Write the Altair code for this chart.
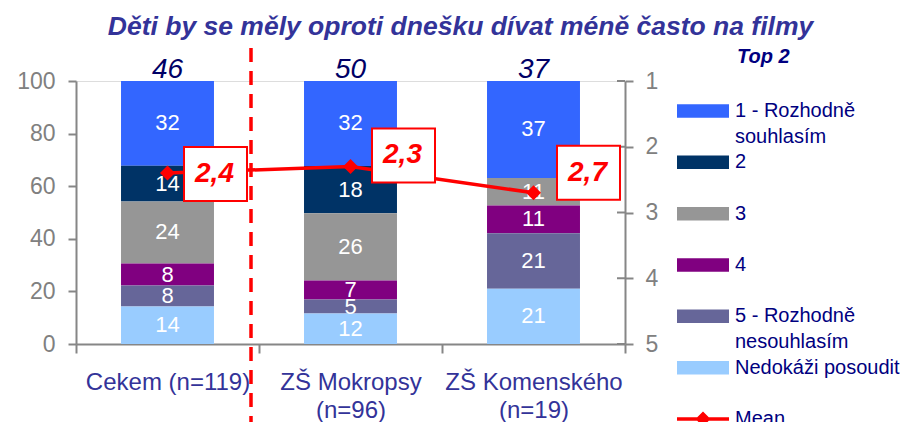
import altair as alt
import pandas as pd

# ---------------- data ----------------
groups = ["Cekem (n=119)", "ZŠ Mokropsy (n=96)", "ZŠ Komenského (n=19)"]
answers = ["1 - Rozhodně souhlasím", "2", "3", "4", "5 - Rozhodně nesouhlasím", "Nedokáži posoudit"]
share_1 = [32.2, 32.3, 36.84]
share_2 = [13.6, 18.0, 0.0]
share_3 = [23.6, 25.6, 10.53]
share_4 = [8.4, 7.2, 10.53]
share_5 = [7.9, 5.3, 21.05]
share_nk = [14.3, 11.6, 21.05]
top2 = [46, 50, 37]
means = [2.4, 2.3, 2.7]
mean_labels = ["2,4", "2,3", "2,7"]
legend_entries = answers + ["Mean"]
left_ticks = [0, 20, 40, 60, 80, 100]
right_ticks = [1, 2, 3, 4, 5]

# ---------------- styles ----------------
colors = ["#3366FF", "#003366", "#969696", "#800080", "#666699", "#99CCFF"]
RED = "#FF0000"
GRAY = "#868686"
NAVY = "#000080"
FONT = "Liberation Sans"
# pixel offsets of the mean label boxes from their points (layout only)
label_offsets = [(48, 1), (53, -11), (55, -20)]

series = [share_1, share_2, share_3, share_4, share_5, share_nk]
rows = []
for a_i, (ans, vals) in enumerate(zip(answers, series)):
    for g, v in zip(groups, vals):
        rows.append({"group": g, "answer": ans, "value": v,
                     "order": len(answers) - 1 - a_i,
                     "label": str(round(v)) if v > 0 else ""})
df = pd.DataFrame(rows)
df_top = pd.DataFrame({"group": groups, "top2": top2})
df_mean = pd.DataFrame({"group": groups, "mean": means, "mlabel": mean_labels})
df_rule = pd.DataFrame({"group": [groups[1]]})
df_leg = pd.DataFrame({"answer": legend_entries})
df_rt = pd.DataFrame({"mean": right_ticks})

x_axis = alt.Axis(title=None, labelAngle=0, domainColor=GRAY, domainWidth=2,
                  tickColor=GRAY, tickWidth=2, tickSize=9, tickBand="extent",
                  labelPadding=17, labelFontSize=24, labelColor="#333399",
                  labelFont=FONT, labelLineHeight=28, labelLimit=300,
                  labelExpr="length(datum.label) > 14 ? split(replace(datum.label, ' (', '|('), '|') : datum.label")
x_scale = alt.Scale(domain=groups, paddingInner=0, paddingOuter=0)


def X(**kw):
    return alt.X("group:N", sort=groups, scale=x_scale, axis=x_axis, **kw)


left_axis = alt.Axis(title=None, values=left_ticks, grid=False,
                     domainColor=GRAY, domainWidth=2, tickColor=GRAY, tickWidth=2,
                     tickSize=8, labelPadding=13, labelFontSize=23,
                     labelColor="#808080", labelFont=FONT)
left_scale = alt.Scale(domain=[0, 100], nice=False, zero=True)

right_axis = alt.Axis(title=None, orient="right", values=right_ticks, grid=False,
                      domainColor=GRAY, domainWidth=2, tickColor=GRAY, tickWidth=2,
                      tickSize=8, labelPadding=12, labelFontSize=23,
                      labelColor="#808080", labelFont=FONT)
right_scale = alt.Scale(domain=[1, 5], reverse=True, nice=False, zero=False)

color_scale = alt.Scale(domain=answers, range=colors)

# ---------------- bars & labels ----------------
bars = alt.Chart(df).mark_bar(width=alt.RelativeBandSize(0.508)).encode(
    x=X(),
    y=alt.Y("value:Q", stack="zero", scale=left_scale, axis=left_axis),
    color=alt.Color("answer:N", scale=color_scale, legend=None),
    order=alt.Order("order:Q", sort="ascending"),
)

bar_text = alt.Chart(df).transform_stack(
    stack="value", groupby=["group"], sort=[alt.SortField("order", order="ascending")],
    as_=["y0", "y1"]
).transform_calculate(mid="(datum.y0 + datum.y1) / 2").transform_filter(
    "datum.value > 0"
).mark_text(color="white", fontSize=22, font=FONT, baseline="middle").encode(
    x=X(),
    y=alt.Y("mid:Q", scale=left_scale, axis=left_axis),
    text="label:N",
)

top_text = alt.Chart(df_top).mark_text(
    color="#000066", fontSize=28, font=FONT, fontStyle="italic", baseline="alphabetic", dy=-3
).encode(
    x=X(),
    y=alt.datum(100, scale=left_scale, axis=left_axis),
    text="top2:Q",
)

rule = alt.Chart(df_rule).mark_rule(
    color=RED, strokeWidth=3.5, strokeDash=[14, 9], xOffset=-8
).encode(
    x=X(bandPosition=0),
    y=alt.value(-33),
    y2=alt.value(352),
)

left = alt.layer(bars, bar_text, top_text, rule)

# ---------------- mean line ----------------
inner_ticks = alt.Chart(df_rt).mark_rule(color=GRAY, strokeWidth=2).encode(
    x=alt.value(541), x2=alt.value(549),
    y=alt.Y("mean:Q", scale=right_scale, axis=right_axis))
mline = alt.Chart(df_mean).mark_line(strokeWidth=3.5, color=RED).encode(
    x=X(), y=alt.Y("mean:Q", scale=right_scale, axis=right_axis))
mpts = alt.Chart(df_mean).mark_point(shape="diamond", filled=True, size=225,
                                      color=RED, opacity=1).encode(
    x=X(), y=alt.Y("mean:Q", scale=right_scale, axis=right_axis))

box_layers = []
for g, (ox, oy) in zip(groups, label_offsets):
    base = alt.Chart(df_mean).transform_filter(alt.datum.group == g)
    box = base.mark_point(shape="M-1,-0.857H1V0.857H-1Z", size=3969, filled=True,
                          fill="white", stroke=RED, strokeWidth=2, opacity=1,
                          xOffset=ox, yOffset=oy).encode(
        x=X(), y=alt.Y("mean:Q", scale=right_scale, axis=right_axis))
    txt = base.mark_text(color=RED, fontSize=28, fontWeight="bold", fontStyle="italic",
                         font=FONT, baseline="middle", dx=ox - 1, dy=oy).encode(
        x=X(), y=alt.Y("mean:Q", scale=right_scale, axis=right_axis), text="mlabel:N")
    box_layers += [box, txt]

right = alt.layer(inner_ticks, mline, mpts, *box_layers)

# ---------------- legend (drawn from the same colour scale) ----------------
leg_y = alt.Y("answer:N", sort=legend_entries, axis=None,
              scale=alt.Scale(type="point", domain=legend_entries, range=[30, 338], padding=0))
swatches = alt.Chart(df_leg).transform_filter("datum.answer != 'Mean'").mark_point(
    shape="M-1,-0.26H1V0.26H-1Z", size=2704, filled=True, opacity=1
).encode(x=alt.value(627), y=leg_y,
         color=alt.Color("answer:N", scale=color_scale, legend=None))
mean_sym = alt.Chart(df_leg).transform_filter("datum.answer == 'Mean'").mark_point(
    shape="M-1,-0.067H1V0.067H-1ZM-0.29,0L0,-0.29L0.29,0L0,0.29Z", size=2704,
    filled=True, opacity=1, color=RED
).encode(x=alt.value(627), y=leg_y)
leg_text = alt.Chart(df_leg).transform_calculate(
    disp="split(replace(datum.answer, 'Rozhodně ', 'Rozhodně|'), '|')"
).mark_text(align="left", baseline="middle", fontSize=20, lineHeight=26,
            font=FONT, color=NAVY).encode(x=alt.value(659), y=leg_y, text="disp:N")
leg_title = alt.Chart(df_rule).mark_text(
    text="Top 2", color=NAVY, fontSize=20, fontWeight="bold", fontStyle="italic",
    font=FONT, align="left", baseline="alphabetic"
).encode(x=alt.value(661), y=alt.value(-18))

legend_layer = alt.layer(swatches, mean_sym, leg_text, leg_title)

chart = alt.layer(left, right, legend_layer).resolve_scale(y="independent").properties(
    width=549, height=263,
    padding={"left": 68, "top": 73, "right": 275, "bottom": 78},
    autosize=alt.AutoSizeParams(type="none"),
    title=alt.TitleParams(
        "Děti by se měly oproti dnešku dívat méně často na filmy",
        font=FONT, fontSize=26.5, fontWeight="bold", fontStyle="italic",
        color="#333399", anchor="middle", dx=110, offset=6),
).configure_view(stroke=None).configure(font=FONT)

chart.save("out.html", embed_options={"renderer": "svg", "actions": False})
